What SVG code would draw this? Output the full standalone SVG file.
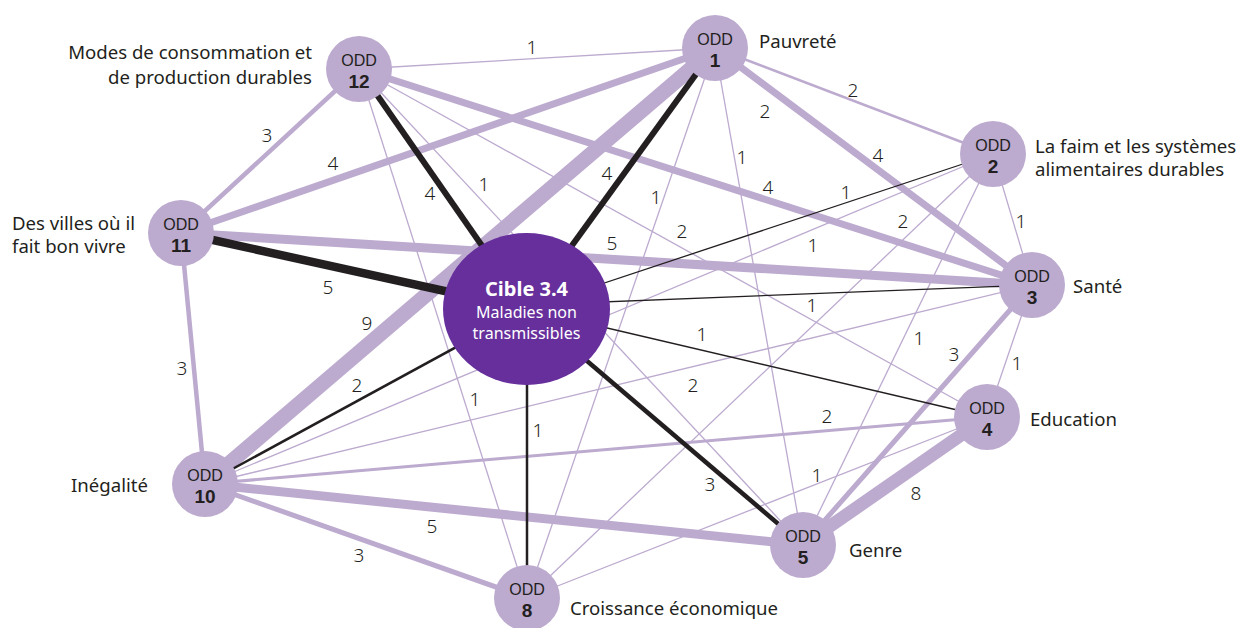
<svg xmlns="http://www.w3.org/2000/svg" width="1249" height="628" viewBox="0 0 1249 628">
<style>
.lav{stroke:#bcaacf;fill:none}
.blk{stroke:#231f20;fill:none}
.w1{stroke-width:1.3}
.w2{stroke-width:2.5}
.w3{stroke-width:4.5}
.w4{stroke-width:7}
.w5{stroke-width:9}
.w8{stroke-width:13}
.w9{stroke-width:15}
.node{fill:#bcaacf}
.odd{font-family:"Liberation Sans",Arial,sans-serif;font-size:16px;fill:#231f20;text-anchor:middle}
.num{font-family:"Liberation Sans",Arial,sans-serif;font-size:19px;font-weight:700;fill:#231f20;text-anchor:middle}
.lbl{font-family:"Noto Sans","Open Sans",sans-serif;font-size:18.6px;fill:#231f20}
.wt{font-family:"Noto Sans","Open Sans",sans-serif;font-size:19px;font-weight:300;fill:#231f20;text-anchor:middle}
.ctr{font-family:"Noto Sans","Open Sans",sans-serif;fill:#ffffff;text-anchor:middle;font-size:16px}
</style>
<rect width="1249" height="628" fill="#ffffff"/>
<g id="connectors">
  <line class="lav w1" x1="715" y1="48" x2="359" y2="69"/>
  <line class="lav w4" x1="715" y1="48" x2="181" y2="233"/>
  <line class="lav w9" x1="715" y1="48" x2="205" y2="484"/>
  <line class="lav w2" x1="715" y1="48" x2="993" y2="154"/>
  <line class="lav w4" x1="715" y1="48" x2="1032" y2="285"/>
  <line class="lav w1" x1="715" y1="48" x2="527" y2="598"/>
  <line class="lav w1" x1="715" y1="48" x2="803" y2="545"/>
  <line class="lav w3" x1="359" y1="69" x2="181" y2="233"/>
  <line class="lav w4" x1="359" y1="69" x2="1032" y2="285"/>
  <line class="lav w1" x1="359" y1="69" x2="987" y2="417"/>
  <line class="lav w1" x1="359" y1="69" x2="803" y2="545"/>
  <line class="lav w1" x1="359" y1="69" x2="527" y2="598"/>
  <line class="lav w1" x1="993" y1="154" x2="205" y2="484"/>
  <line class="lav w1" x1="993" y1="154" x2="527" y2="598"/>
  <line class="lav w1" x1="993" y1="154" x2="803" y2="545"/>
  <line class="lav w1" x1="993" y1="154" x2="1032" y2="285"/>
  <line class="lav w5" x1="181" y1="233" x2="1032" y2="285"/>
  <line class="lav w3" x1="181" y1="233" x2="205" y2="484"/>
  <line class="lav w1" x1="1032" y1="285" x2="205" y2="484"/>
  <line class="lav" style="stroke-width:5" x1="1032" y1="285" x2="803" y2="545"/>
  <line class="lav w1" x1="1032" y1="285" x2="987" y2="417"/>
  <line class="lav" style="stroke-width:3" x1="987" y1="417" x2="205" y2="484"/>
  <line class="lav w1" x1="987" y1="417" x2="527" y2="598"/>
  <line class="lav w8" x1="987" y1="417" x2="803" y2="545"/>
  <line class="lav w5" x1="803" y1="545" x2="205" y2="484"/>
  <line class="lav" style="stroke-width:5" x1="205" y1="484" x2="527" y2="598"/>
  <line class="blk" style="stroke-width:6" x1="526" y1="309" x2="715" y2="48"/>
  <line class="blk" style="stroke-width:6" x1="526" y1="309" x2="359" y2="69"/>
  <line class="blk" style="stroke-width:8.5" x1="526" y1="309" x2="181" y2="233"/>
  <line class="blk w1" x1="526" y1="309" x2="993" y2="154"/>
  <line class="blk w1" x1="526" y1="305" x2="1032" y2="285"/>
  <line class="blk w1" x1="526" y1="309" x2="987" y2="417"/>
  <line class="blk" style="stroke-width:4.5" x1="526" y1="309" x2="803" y2="545"/>
  <line class="blk w2" x1="527" y1="309" x2="527" y2="598"/>
  <line class="blk w2" x1="526" y1="309" x2="205" y2="484"/>
</g>
<g id="weights">
  <text class="wt" x="532" y="54">1</text>
  <text class="wt" x="853" y="97">2</text>
  <text class="wt" x="765" y="118">2</text>
  <text class="wt" x="267" y="142">3</text>
  <text class="wt" x="878" y="162">4</text>
  <text class="wt" x="742" y="164">1</text>
  <text class="wt" x="333" y="170">4</text>
  <text class="wt" x="607" y="180">4</text>
  <text class="wt" x="484" y="191">1</text>
  <text class="wt" x="768" y="194">4</text>
  <text class="wt" x="430" y="200">4</text>
  <text class="wt" x="656" y="204">1</text>
  <text class="wt" x="846" y="199">1</text>
  <text class="wt" x="682" y="238">2</text>
  <text class="wt" x="612" y="250">5</text>
  <text class="wt" x="1021" y="228">1</text>
  <text class="wt" x="903" y="228">2</text>
  <text class="wt" x="813" y="252">1</text>
  <text class="wt" x="812" y="312">1</text>
  <text class="wt" x="702" y="341">1</text>
  <text class="wt" x="919" y="345">1</text>
  <text class="wt" x="693" y="392">2</text>
  <text class="wt" x="827" y="423">2</text>
  <text class="wt" x="328" y="294">5</text>
  <text class="wt" x="367" y="330">9</text>
  <text class="wt" x="182" y="375">3</text>
  <text class="wt" x="357" y="392">2</text>
  <text class="wt" x="475" y="406">1</text>
  <text class="wt" x="538" y="437">1</text>
  <text class="wt" x="954" y="361">3</text>
  <text class="wt" x="1017" y="370">1</text>
  <text class="wt" x="916" y="500">8</text>
  <text class="wt" x="817" y="482">1</text>
  <text class="wt" x="710" y="491">3</text>
  <text class="wt" x="432" y="533">5</text>
  <text class="wt" x="359" y="562">3</text>
</g>
<g id="center">
  <ellipse cx="526.5" cy="309" rx="83.5" ry="76" fill="#662f9c"/>
  <text class="ctr"><tspan x="526.5" y="296" style="font-size:20px;font-weight:700">Cible 3.4</tspan><tspan x="526.5" y="318">Maladies non</tspan><tspan x="526.5" y="339">transmissibles</tspan></text>
</g>
<g id="odd1"><circle class="node" cx="715" cy="48" r="33"/><text class="odd" x="715" y="44.5">ODD</text><text class="num" x="715" y="66.5">1</text><text class="lbl" x="759" y="48">Pauvreté</text></g>
<g id="odd12"><circle class="node" cx="359" cy="69" r="33"/><text class="odd" x="359" y="65.5">ODD</text><text class="num" x="359" y="87.5">12</text><text class="lbl" text-anchor="end"><tspan x="312" y="59">Modes de consommation et</tspan><tspan x="312" y="84">de production durables</tspan></text></g>
<g id="odd2"><circle class="node" cx="993" cy="154" r="33"/><text class="odd" x="993" y="150.5">ODD</text><text class="num" x="993" y="172.5">2</text><text class="lbl"><tspan x="1035" y="153">La faim et les systèmes</tspan><tspan x="1035" y="176">alimentaires durables</tspan></text></g>
<g id="odd11"><circle class="node" cx="181" cy="233" r="33"/><text class="odd" x="181" y="229.5">ODD</text><text class="num" x="181" y="251.5">11</text><text class="lbl"><tspan x="12" y="230">Des villes où il</tspan><tspan x="12" y="253">fait bon vivre</tspan></text></g>
<g id="odd3"><circle class="node" cx="1032" cy="285" r="33"/><text class="odd" x="1032" y="281.5">ODD</text><text class="num" x="1032" y="303.5">3</text><text class="lbl" x="1073" y="293">Santé</text></g>
<g id="odd4"><circle class="node" cx="987" cy="417" r="33"/><text class="odd" x="987" y="413.5">ODD</text><text class="num" x="987" y="435.5">4</text><text class="lbl" x="1030" y="426">Education</text></g>
<g id="odd10"><circle class="node" cx="205" cy="484" r="33"/><text class="odd" x="205" y="480.5">ODD</text><text class="num" x="205" y="502.5">10</text><text class="lbl" x="148" y="492" text-anchor="end">Inégalité</text></g>
<g id="odd5"><circle class="node" cx="803" cy="545" r="33"/><text class="odd" x="803" y="541.5">ODD</text><text class="num" x="803" y="563.5">5</text><text class="lbl" x="849" y="557">Genre</text></g>
<g id="odd8"><circle class="node" cx="527" cy="598" r="33"/><text class="odd" x="527" y="594.5">ODD</text><text class="num" x="527" y="616.5">8</text><text class="lbl" x="570" y="615">Croissance économique</text></g>
</svg>
